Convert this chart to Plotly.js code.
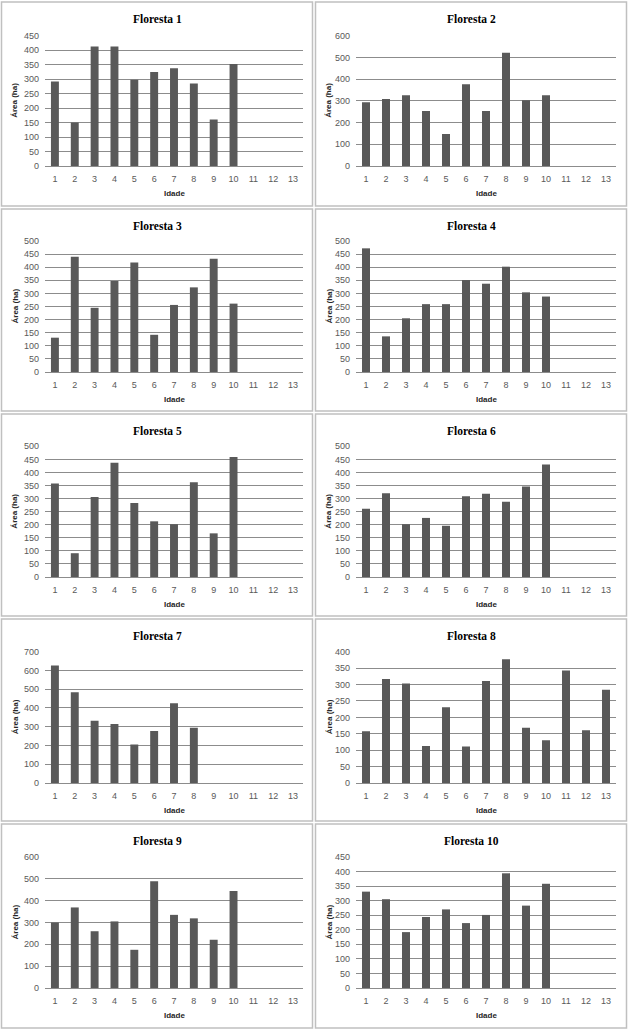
<!DOCTYPE html>
<html>
<head>
<meta charset="utf-8">
<script src="https://cdn.plot.ly/plotly-3.0.1.min.js"></script>
<style>html,body{margin:0;padding:0;background:#fff;}#chart{width:628px;height:1030px;}</style>
</head>
<body>
<div id="chart"></div>
<script>
const ages = [1, 2, 3, 4, 5, 6, 7, 8, 9, 10, 11, 12, 13];
const titles = ["Floresta 1", "Floresta 2", "Floresta 3", "Floresta 4", "Floresta 5",
                "Floresta 6", "Floresta 7", "Floresta 8", "Floresta 9", "Floresta 10"];
const floresta1 = [292, 150, 413, 413, 298, 325, 338, 285, 161, 352];
const floresta2 = [294, 308, 326, 253, 147, 377, 253, 522, 303, 326];
const floresta3 = [131, 440, 245, 347, 418, 142, 256, 323, 432, 261];
const floresta4 = [472, 136, 205, 259, 259, 351, 337, 402, 304, 288];
const floresta5 = [358, 91, 306, 437, 283, 213, 202, 362, 167, 459];
const floresta6 = [261, 320, 202, 226, 196, 309, 318, 288, 346, 430];
const floresta7 = [627, 484, 332, 314, 205, 277, 425, 295];
const floresta8 = [158, 317, 303, 113, 231, 111, 311, 377, 168, 130, 343, 161, 284];
const floresta9 = [300, 369, 260, 305, 175, 489, 335, 319, 221, 444];
const floresta10 = [331, 305, 192, 244, 270, 223, 251, 394, 283, 358];
const yMax = [450, 600, 500, 500, 500, 500, 700, 400, 600, 450];
const yStep = [50, 100, 50, 50, 50, 50, 100, 50, 100, 50];
const xTitle = "Idade";
const yTitle = "Área (ha)";

const series = [floresta1, floresta2, floresta3, floresta4, floresta5,
                floresta6, floresta7, floresta8, floresta9, floresta10];

const W = 628, H = 1030;
const colX = [[45, 303], [356, 616]];
const rowY = [[35.7, 166], [241, 372], [446.3, 577], [651.7, 783], [857, 988]];
const panelTop = [0, 207, 412, 617, 822];
const panelBot = [207, 412, 617, 822, 1029];

const traces = [];
const layout = {
  width: W, height: H,
  margin: {l: 0, r: 0, t: 0, b: 0},
  paper_bgcolor: "#ffffff",
  plot_bgcolor: "#ffffff",
  showlegend: false,
  bargap: 0.6,
  annotations: [],
  shapes: []
};

const tickFont = {family: "Liberation Sans, Arial, sans-serif", size: 9, color: "#595959"};
const boldFont = {family: "Liberation Sans, Arial, sans-serif", size: 8, color: "#262626", weight: "bold"};

series.forEach((vals, i) => {
  const r = Math.floor(i / 2), c = i % 2;
  const sfx = i === 0 ? "" : String(i + 1);
  traces.push({
    type: "bar",
    x: ages.slice(0, vals.length),
    y: vals,
    xaxis: "x" + sfx,
    yaxis: "y" + sfx,
    marker: {color: "#595959"},
    hoverinfo: "x+y"
  });
  layout["xaxis" + sfx] = {
    domain: [colX[c][0] / W, colX[c][1] / W],
    anchor: "y" + sfx,
    range: [0.5, 13.5],
    tickmode: "array",
    tickvals: ages,
    ticktext: ages.map(String),
    showgrid: false, zeroline: false, showline: false, ticks: "",
    ticklabelstandoff: 6,
    tickfont: tickFont,
    fixedrange: true
  };
  layout["yaxis" + sfx] = {
    domain: [1 - rowY[r][1] / H, 1 - rowY[r][0] / H],
    anchor: "x" + sfx,
    range: [0, yMax[i]],
    dtick: yStep[i],
    tick0: 0,
    showgrid: true, gridcolor: "#8c8c8c", gridwidth: 1,
    zeroline: true, zerolinecolor: "#8c8c8c", zerolinewidth: 1,
    showline: false, ticks: "",
    ticklabelstandoff: 5,
    tickfont: tickFont,
    fixedrange: true
  };
  const off = panelTop[r];
  layout.annotations.push({
    text: titles[i], xref: "paper", yref: "paper",
    x: (c * 314 + 157) / W, y: 1 - (off + 19) / H,
    xanchor: "center", yanchor: "middle", showarrow: false,
    font: {family: "Liberation Serif, Times New Roman, serif", size: 11.5, color: "#000000", weight: "bold"}
  });
  layout.annotations.push({
    text: xTitle, xref: "paper", yref: "paper",
    x: (colX[c][0] + colX[c][1]) / 2 / W, y: 1 - (rowY[r][1] + 27) / H,
    xanchor: "center", yanchor: "middle", showarrow: false,
    font: boldFont
  });
  layout.annotations.push({
    text: yTitle, xref: "paper", yref: "paper",
    x: (c * 314 + 15) / W, y: 1 - (rowY[r][0] + rowY[r][1]) / 2 / H,
    xanchor: "center", yanchor: "middle", showarrow: false, textangle: -90,
    font: boldFont
  });
  layout.shapes.push({
    type: "rect", xref: "paper", yref: "paper",
    x0: (c * 314 + 1.5) / W, x1: (c * 314 + 312.5) / W,
    y0: 1 - (panelBot[r] - 1) / H, y1: 1 - (off + 2) / H,
    line: {color: "#c0c0c0", width: 1.5}
  });
});

Plotly.newPlot("chart", traces, layout, {staticPlot: true, displayModeBar: false});
</script>
</body>
</html>
